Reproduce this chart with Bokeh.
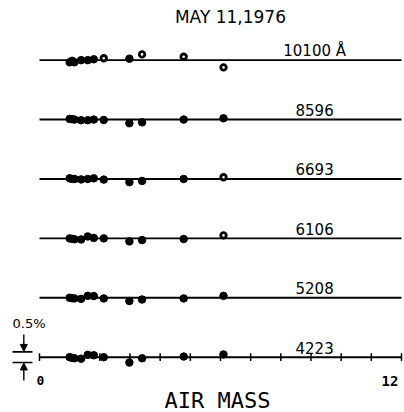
from bokeh.plotting import figure
from bokeh.models import Range1d, ColumnDataSource, Arrow, NormalHead
from bokeh.core.properties import value
from bokeh.embed import file_html
from bokeh.resources import INLINE

# ---------------- data ----------------
title = "MAY 11,1976"
x_label = "AIR MASS"
scale_label = "0.5%"
x_ticks = list(range(0, 13))
x_tick_labels = {0: "0", 12: "12"}

airmass = [1.0, 1.08, 1.16, 1.38, 1.6, 1.8, 2.13, 2.98, 3.4, 4.78, 6.1]

# bottom to top
wavelengths = ["4223", "5208", "6106", "6693", "8596", "10100 Å"]
dev_4223 = [0.00, -0.03, -0.05, -0.07, 0.11, 0.09, 0.00, -0.25, -0.05, 0.03, 0.13]
dev_5208 = [0.00, -0.02, -0.03, -0.05, 0.09, 0.08, -0.03, -0.15, -0.08, -0.03, 0.09]
dev_6106 = [0.00, -0.02, -0.04, -0.05, 0.09, 0.02, 0.00, -0.14, -0.08, -0.03, 0.14]
dev_6693 = [0.03, 0.00, 0.00, -0.02, 0.00, 0.03, -0.03, -0.15, -0.09, 0.00, 0.08]
dev_8596 = [0.03, 0.02, 0.00, -0.03, -0.03, 0.00, -0.02, -0.17, -0.13, 0.00, 0.06]
dev_10100 = [-0.10, -0.03, -0.10, 0.00, 0.00, 0.04, 0.09, 0.07, 0.27, 0.16, -0.34]
deviations = [dev_4223, dev_5208, dev_6106, dev_6693, dev_8596, dev_10100]

open_4223 = [0] * 11
open_5208 = [0] * 11
open_6106 = [0] * 10 + [1]
open_6693 = [0] * 10 + [1]
open_8596 = [0] * 11
open_10100 = [0, 0, 0, 0, 0, 0, 1, 0, 1, 1, 1]
open_flags = [open_4223, open_5208, open_6106, open_6693, open_8596, open_10100]

# ---------------- layout ----------------
ROW_STEP = 2.776      # vertical separation between rows, in %
FONT = value("DejaVu Sans")
MONO = value("DejaVu Sans Mono")

p = figure(width=404, height=412,
           x_range=Range1d(-1.2928, 12.0995), y_range=Range1d(-2.584, 16.668),
           output_backend="svg", toolbar_location=None,
           x_axis_location=None, y_axis_location=None, min_border=0)
p.grid.visible = False
p.outline_line_color = None
p.background_fill_color = "white"

for i, (name, dev, opn) in enumerate(zip(wavelengths, deviations, open_flags)):
    base = i * ROW_STEP
    p.line(x=[x_ticks[0], x_ticks[-1]], y=[base, base], line_color="black", line_width=1.9)
    src = ColumnDataSource(dict(
        x=airmass,
        y=[d + base for d in dev],
        fill=["white" if o else "black" for o in opn],
        lw=[2.8 if o else 1.0 for o in opn],
        sz=[5.5 if o else 7.5 for o in opn],
    ))
    p.scatter(x="x", y="y", source=src, marker="circle", size="sz",
              fill_color="fill", line_color="black", line_width="lw")
    p.text(x=[9.12], y=[base + 0.45], text=[name], text_font=FONT,
           text_font_size="15px", text_align="center", text_baseline="alphabetic",
           text_color="black")

# ticks on bottom row
p.segment(x0=x_ticks, x1=x_ticks, y0=[-0.18] * len(x_ticks), y1=[0.18] * len(x_ticks),
          line_color="black", line_width=1.5)
p.text(x=[0.03], y=[-1.09], text=[x_tick_labels[0]], text_font=MONO,
       text_font_size="13px", text_font_style="bold", text_align="center",
       text_baseline="middle", text_color="black")
p.text(x=[11.34], y=[-1.09], text=[x_tick_labels[12]], text_font=MONO,
       text_font_size="14px", text_font_style="bold", text_align="left",
       text_baseline="middle", text_color="black")

# axis label
p.text(x=[5.9], y=[-2.02], text=[x_label], text_font=MONO, text_font_size="22px",
       text_align="center", text_baseline="middle", text_color="black")

# title
p.text(x=[6.33], y=[15.92], text=[title], text_font=FONT, text_font_size="17px",
       text_align="center", text_baseline="middle", text_color="black")

# 0.5 % scale bar
p.text(x=[-0.895], y=[1.575], text=[scale_label], text_font=FONT, text_font_size="13px",
       text_align="left", text_baseline="middle", text_color="black")
p.segment(x0=[-0.895, -0.895], x1=[-0.232, -0.232], y0=[0.25, -0.25], y1=[0.25, -0.25],
          line_color="black", line_width=1.6)
p.add_layout(Arrow(x_start=-0.52, y_start=1.06, x_end=-0.52, y_end=0.27,
                   line_width=1.4, line_color="black",
                   end=NormalHead(size=7, fill_color="black", line_color="black")))
p.add_layout(Arrow(x_start=-0.52, y_start=-1.09, x_end=-0.52, y_end=-0.27,
                   line_width=1.4, line_color="black",
                   end=NormalHead(size=7, fill_color="black", line_color="black")))

open("out.html", "w").write(file_html(p, INLINE))
